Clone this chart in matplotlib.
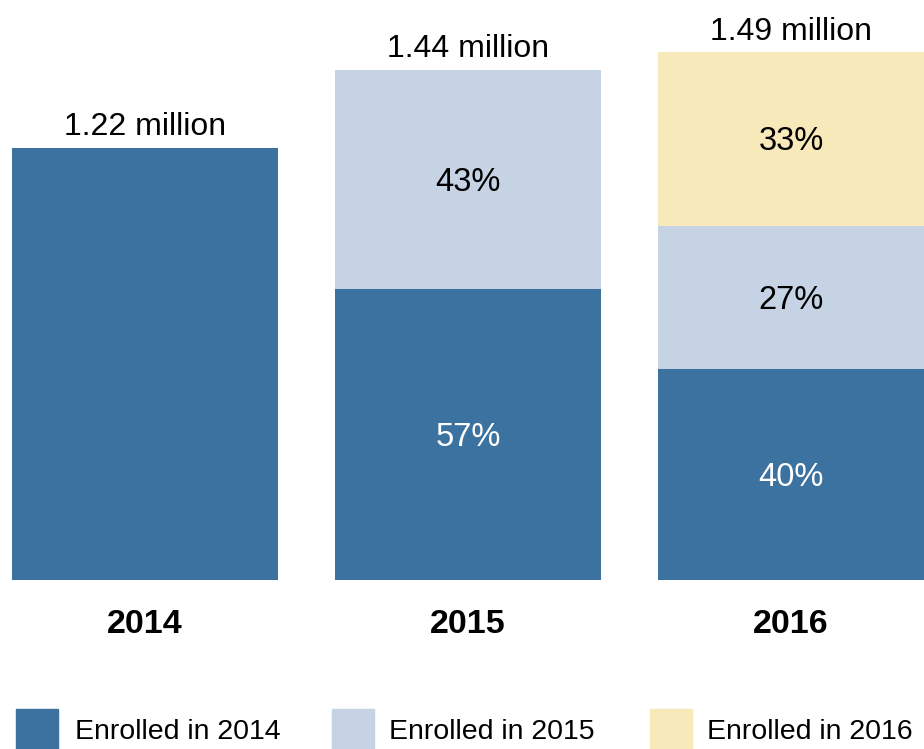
import matplotlib

matplotlib.use("Agg")
import matplotlib.pyplot as plt
import numpy as np
from matplotlib.patches import Rectangle

plt.rcParams["font.family"] = ["Liberation Sans", "DejaVu Sans"]

# data
years = ["2014", "2015", "2016"]
totals = [1.22, 1.44, 1.49]  # millions
cohorts = ["Enrolled in 2014", "Enrolled in 2015", "Enrolled in 2016"]
shares = [
    [100, 57, 40],  # enrolled in 2014
    [0, 43, 27],  # enrolled in 2015
    [0, 0, 33],  # enrolled in 2016
]
colors = ["#3c72a0", "#c5d3e5", "#f8e9ba"]
text_colors = ["white", "black", "black"]

W, H = 924, 749
fig = plt.figure(figsize=(W / 100, H / 100), dpi=100)

# axes spans full width, bottom at y=580px
px_per_unit = 323.0
ax = fig.add_axes([0, (H - 580) / H, 1, 580 / H])
ax.set_xlim(-145 / px_per_unit, (W - 145) / px_per_unit)
ax.set_ylim(0, 580 / 354.3)
ax.axis("off")

x = np.arange(len(years))
width = 266 / px_per_unit
bottom = np.zeros(len(years))
for i, cohort in enumerate(cohorts):
    vals = np.array(totals) * np.array(shares[i]) / 100
    ax.bar(x, vals, width, bottom=bottom, color=colors[i], label=cohort)
    for j, v in enumerate(vals):
        if v > 0 and shares[i][j] < 100:
            ax.annotate(
                f"{shares[i][j]}%",
                (x[j], bottom[j] + v / 2),
                textcoords="offset points",
                xytext=(0, -2),
                ha="center",
                va="center",
                fontsize=23.5,
                color=text_colors[i],
            )
    bottom += vals

for j, t in enumerate(totals):
    ax.annotate(
        f"{t:.2f} million",
        (x[j], t),
        textcoords="offset points",
        xytext=(0, 4),
        ha="center",
        va="bottom",
        fontsize=23,
        color="black",
        annotation_clip=False,
    )
    ax.annotate(
        years[j],
        (x[j], 0),
        textcoords="offset points",
        xytext=(0, -32),
        ha="center",
        va="center",
        fontsize=24.5,
        fontweight="bold",
        annotation_clip=False,
    )

# legend
sq_x = [16, 332, 650]
txt_x = [75, 389, 707]
for i, cohort in enumerate(cohorts):
    fig.add_artist(
        Rectangle(
            (sq_x[i] / W, 0), 42 / W, 40 / H,
            transform=fig.transFigure, color=colors[i],
        )
    )
    fig.text(txt_x[i] / W, (H - 732) / H, cohort, ha="left", va="center", fontsize=20.5)

fig.savefig("out.png", dpi=100)
